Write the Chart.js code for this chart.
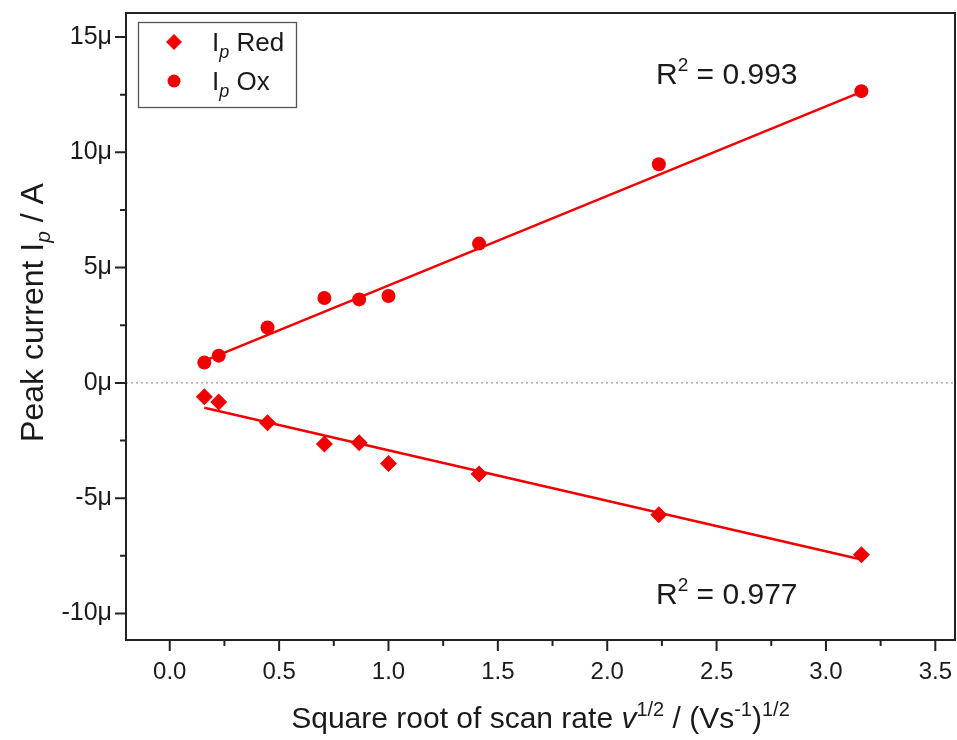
<!DOCTYPE html>
<html>
<head>
<meta charset="utf-8">
<script src="https://cdn.jsdelivr.net/npm/chart.js@4.4.1/dist/chart.umd.min.js"></script>
<style>
	body { margin: 0; background: #fff; }
	#wrap { width: 957px; height: 740px; position: relative; }
</style>
</head>
<body>
<div id="wrap"><canvas id="peakChart"></canvas></div>
<script>
// square root of scan rate, (V/s)^1/2
const sqrtScanRate = [0.158, 0.224, 0.447, 0.707, 0.866, 1.0, 1.414, 2.236, 3.162];
// peak currents in microampere
const ipRed = [-0.60, -0.83, -1.73, -2.65, -2.60, -3.50, -3.95, -5.72, -7.45];
const ipOx = [0.88, 1.18, 2.40, 3.68, 3.62, 3.77, 6.04, 9.48, 12.65];
// linear fit end points
const fitX = [0.158, 3.162];
const fitRed = [-1.08, -7.66];
const fitOx = [0.95, 12.62];
const r2Red = '0.977';
const r2Ox = '0.993';

const xTicks = [0, 0.5, 1, 1.5, 2, 2.5, 3, 3.5];
const yTicks = [-10, -5, 0, 5, 10, 15];

const RED = '#f00000';
const SANS = '"Liberation Sans", Arial, sans-serif';

function pts(xs, ys) {
	return xs.map((x, i) => ({ x: x, y: ys[i] }));
}

// draws a list of text pieces one after the other, sup pieces raised
function richText(ctx, parts, x, y, align) {
	let total = 0;
	parts.forEach(p => { ctx.font = p.font; total += ctx.measureText(p.t).width; });
	let cx = align === 'center' ? x - total / 2 : x;
	ctx.textBaseline = 'alphabetic';
	ctx.textAlign = 'left';
	parts.forEach(p => {
		ctx.font = p.font;
		ctx.fillText(p.t, cx, y + (p.dy || 0));
		cx += ctx.measureText(p.t).width;
	});
}

const decorPlugin = {
	id: 'decor',
	beforeDatasetsDraw(chart) {
		const ctx = chart.ctx;
		const a = chart.chartArea;
		const y0 = chart.scales.y.getPixelForValue(0);
		ctx.save();
		ctx.strokeStyle = '#9a9a9a';
		ctx.lineWidth = 1.2;
		ctx.setLineDash([2, 3]);
		ctx.beginPath();
		ctx.moveTo(a.left, y0);
		ctx.lineTo(a.right, y0);
		ctx.stroke();
		ctx.restore();
	},
	afterDraw(chart) {
		const ctx = chart.ctx;
		const a = chart.chartArea;
		const xs = chart.scales.x;
		const ys = chart.scales.y;
		ctx.save();
		ctx.strokeStyle = '#222';
		ctx.lineWidth = 2;
		ctx.strokeRect(a.left, a.top, a.right - a.left, a.bottom - a.top);

		// major and minor ticks, pointing out
		ctx.beginPath();
		xTicks.forEach((v, i) => {
			const px = xs.getPixelForValue(v);
			ctx.moveTo(px, a.bottom); ctx.lineTo(px, a.bottom + 11);
			if (i < xTicks.length - 1) {
				const mx = xs.getPixelForValue((v + xTicks[i + 1]) / 2);
				ctx.moveTo(mx, a.bottom); ctx.lineTo(mx, a.bottom + 6);
			}
		});
		yTicks.forEach((v, i) => {
			const py = ys.getPixelForValue(v);
			ctx.moveTo(a.left, py); ctx.lineTo(a.left - 11, py);
			if (i < yTicks.length - 1) {
				const my = ys.getPixelForValue((v + yTicks[i + 1]) / 2);
				ctx.moveTo(a.left, my); ctx.lineTo(a.left - 6, my);
			}
		});
		ctx.stroke();

		// axis titles
		ctx.fillStyle = '#1a1a1a';
		richText(ctx, [
			{ t: 'Square root of scan rate ', font: '30px ' + SANS },
			{ t: 'v', font: 'italic 30px ' + SANS },
			{ t: '1/2', font: '20px ' + SANS, dy: -12 },
			{ t: ' / (Vs', font: '30px ' + SANS },
			{ t: '-1', font: '20px ' + SANS, dy: -12 },
			{ t: ')', font: '30px ' + SANS },
			{ t: '1/2', font: '20px ' + SANS, dy: -12 }
		], (a.left + a.right) / 2, 728, 'center');

		ctx.save();
		ctx.translate(43, (a.top + a.bottom) / 2 - 14);
		ctx.rotate(-Math.PI / 2);
		richText(ctx, [
			{ t: 'Peak current I', font: '32px ' + SANS },
			{ t: 'p', font: 'italic 21px ' + SANS, dy: 7 },
			{ t: ' / A', font: '32px ' + SANS }
		], 0, 0, 'center');
		ctx.restore();

		// R squared labels
		richText(ctx, [
			{ t: 'R', font: '30px ' + SANS },
			{ t: '2', font: '19px ' + SANS, dy: -13 },
			{ t: ' = ' + r2Ox, font: '30px ' + SANS }
		], 656, 84, 'left');
		richText(ctx, [
			{ t: 'R', font: '30px ' + SANS },
			{ t: '2', font: '19px ' + SANS, dy: -13 },
			{ t: ' = ' + r2Red, font: '30px ' + SANS }
		], 656, 604, 'left');

		// legend
		ctx.strokeStyle = '#555';
		ctx.lineWidth = 1.3;
		ctx.strokeRect(138.5, 22.5, 158, 85);
		ctx.fillStyle = RED;
		ctx.beginPath();
		ctx.moveTo(174, 34); ctx.lineTo(182, 42); ctx.lineTo(174, 50); ctx.lineTo(166, 42);
		ctx.closePath(); ctx.fill();
		ctx.beginPath();
		ctx.arc(174, 81, 6.5, 0, Math.PI * 2);
		ctx.fill();
		ctx.fillStyle = '#1a1a1a';
		richText(ctx, [
			{ t: 'I', font: '26px ' + SANS },
			{ t: 'p', font: 'italic 18px ' + SANS, dy: 7 },
			{ t: ' Red', font: '26px ' + SANS }
		], 212, 51, 'left');
		richText(ctx, [
			{ t: 'I', font: '26px ' + SANS },
			{ t: 'p', font: 'italic 18px ' + SANS, dy: 7 },
			{ t: ' Ox', font: '26px ' + SANS }
		], 212, 90, 'left');
		ctx.restore();
	}
};

function noPad(scale) {
	scale.paddingTop = 0;
	scale.paddingBottom = 0;
	scale.paddingLeft = 0;
	scale.paddingRight = 0;
}

new Chart(document.getElementById('peakChart'), {
	type: 'scatter',
	data: {
		datasets: [
			{
				label: 'Ip Red',
				data: pts(sqrtScanRate, ipRed),
				pointStyle: 'rectRot',
				pointRadius: 8.5,
				backgroundColor: RED,
				borderColor: RED,
				borderWidth: 0
			},
			{
				label: 'Ip Ox',
				data: pts(sqrtScanRate, ipOx),
				pointStyle: 'circle',
				pointRadius: 7,
				backgroundColor: RED,
				borderColor: RED,
				borderWidth: 0
			},
			{
				label: 'fit Red',
				data: pts(fitX, fitRed),
				showLine: true,
				pointRadius: 0,
				borderColor: RED,
				borderWidth: 2.4
			},
			{
				label: 'fit Ox',
				data: pts(fitX, fitOx),
				showLine: true,
				pointRadius: 0,
				borderColor: RED,
				borderWidth: 2.4
			}
		]
	},
	options: {
		responsive: true,
		maintainAspectRatio: false,
		animation: false,
		layout: { autoPadding: false, padding: { top: 13, right: 2, left: 0, bottom: 0 } },
		plugins: {
			legend: { display: false },
			tooltip: { enabled: false }
		},
		scales: {
			x: {
				type: 'linear',
				min: -0.2,
				max: 3.59,
				afterBuildTicks: scale => { scale.ticks = xTicks.map(v => ({ value: v })); },
				afterFit: scale => { scale.height = 100; noPad(scale); },
				grid: { display: false, drawTicks: false },
				border: { display: false },
				ticks: {
					padding: 18,
					maxRotation: 0,
					color: '#1a1a1a',
					font: { family: SANS, size: 24 },
					callback: v => v.toFixed(1)
				}
			},
			y: {
				type: 'linear',
				min: -11.15,
				max: 16.04,
				afterBuildTicks: scale => { scale.ticks = yTicks.map(v => ({ value: v })); },
				afterFit: scale => { scale.width = 126; noPad(scale); },
				grid: { display: false, drawTicks: false },
				border: { display: false },
				ticks: {
					padding: 14,
					color: '#1a1a1a',
					font: { family: SANS, size: 25 },
					callback: v => v + 'μ'
				}
			}
		}
	},
	plugins: [decorPlugin]
});
</script>
</body>
</html>
